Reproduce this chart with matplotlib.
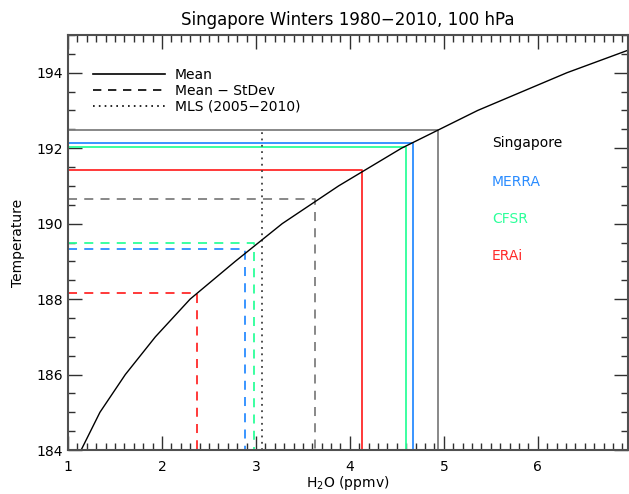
import matplotlib.pyplot as plt
from matplotlib.ticker import MultipleLocator

# saturation curve (temperature vs H2O)
curve_temp = [184, 185, 186, 187, 188, 189, 190, 191, 192, 193, 194, 195]
curve_h2o = [1.14, 1.34, 1.61, 1.93, 2.30, 2.78, 3.28, 3.88, 4.55, 5.36, 6.31, 7.40]

sources = ["Singapore", "MERRA", "CFSR", "ERAi"]
colors = ["#7f7f7f", "#2a8cff", "#2cff9a", "#ff2a2a"]
mean_temp = [192.49, 192.15, 192.04, 191.41]
mean_h2o = [4.94, 4.67, 4.60, 4.13]
sd_temp = [190.64, 189.32, 189.50, 188.15]
sd_h2o = [3.63, 2.88, 2.98, 2.37]
mls_h2o = 3.06
mls_top = 192.49

fig = plt.figure(figsize=(6.29, 4.94), dpi=100)
ax = fig.add_axes([68 / 629, 1 - 450 / 494, 560 / 629, 415 / 494])

x0, y0 = 1.0, 184.0
for name, c, mt, mx, st, sx in zip(sources, colors, mean_temp, mean_h2o, sd_temp, sd_h2o):
    ax.plot([x0, mx, mx], [mt, mt, y0], color=c, lw=1.3)
    ax.plot([x0, sx, sx], [st, st, y0], color=c, lw=1.3, dashes=(5, 4))

ax.plot([mls_h2o, mls_h2o], [y0, mls_top], color="#404040", lw=1.3, dashes=(1, 2.5))
ax.plot(curve_h2o, curve_temp, color="black", lw=1.0)

# legend
h1, = ax.plot([], [], color="black", lw=1.2)
h2, = ax.plot([], [], color="black", lw=1.2, dashes=(5, 4))
h3, = ax.plot([], [], color="black", lw=1.2, dashes=(1, 2.5))
ax.legend([h1, h2, h3], ["Mean", "Mean \u2212 StDev", "MLS (2005\u22122010)"],
          loc="upper left", bbox_to_anchor=(0.035, 0.935), frameon=False,
          handlelength=5.2, handletextpad=0.7, labelspacing=0.15, fontsize=10,
          borderaxespad=0)

for i, (name, c) in enumerate(zip(sources, colors)):
    tc = "black" if i == 0 else c
    ax.text(0.757, [0.740, 0.646, 0.557, 0.467][i], name, color=tc,
            transform=ax.transAxes, fontsize=10, va="center", ha="left")

ax.set_xlim(1, 6.96)
ax.set_ylim(184, 195)
ax.xaxis.set_major_locator(MultipleLocator(1))
ax.xaxis.set_minor_locator(MultipleLocator(0.1))
ax.yaxis.set_major_locator(MultipleLocator(2))
ax.yaxis.set_minor_locator(MultipleLocator(0.5))
ax.tick_params(which="both", direction="in", top=True, right=True,
               labelsize=10, color="#303030")
ax.tick_params(which="major", length=10, width=1)
ax.tick_params(which="minor", length=5, width=1)
ax.tick_params(axis="x", pad=7)
for s in ax.spines.values():
    s.set_color("#505050")
    s.set_linewidth(1.5)

ax.set_xlabel("H$_2$O (ppmv)", fontsize=10, labelpad=0)
ax.set_ylabel("Temperature", fontsize=10, labelpad=8)
ax.set_title("Singapore Winters 1980\u22122010, 100 hPa", fontsize=12, pad=7)

fig.savefig("out.png", dpi=100)
